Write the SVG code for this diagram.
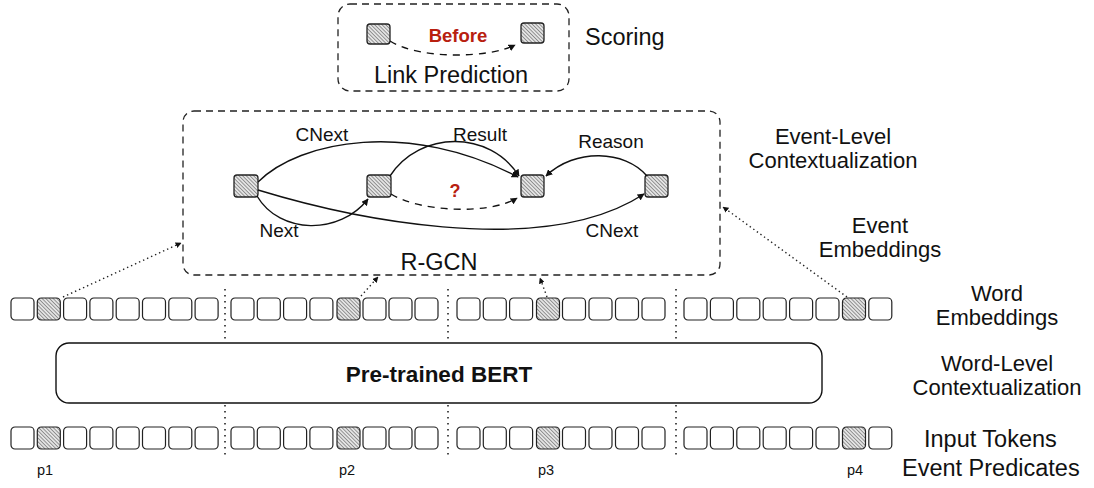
<svg xmlns="http://www.w3.org/2000/svg" xmlns:xlink="http://www.w3.org/1999/xlink" width="1094" height="488" viewBox="0 0 1094 488">
<style>
text{font-family:"Liberation Sans",Arial,Helvetica,sans-serif;fill:#111}
.big{font-size:23.5px}
.two{font-size:22px}
.lbl{font-size:19px}
.p{font-size:14.5px}
.red{fill:#b8200f;font-weight:bold}
.dash{fill:none;stroke:#222;stroke-width:1.3;stroke-dasharray:7 5}
.edge{fill:none;stroke:#111;stroke-width:1.4}
.edash{fill:none;stroke:#111;stroke-width:1.4;stroke-dasharray:7 6}
.dot{fill:none;stroke:#222;stroke-width:1.4;stroke-dasharray:1.4 3}
.sep{fill:none;stroke:#222;stroke-width:1.6;stroke-dasharray:1.6 4.4}
.tok{fill:#fff;stroke:#222;stroke-width:1.2}
.hat{fill:url(#hatch);stroke:#222;stroke-width:1.2}
.node{fill:url(#hatch);stroke:#222;stroke-width:1.3}
</style>
<defs>
<pattern id="hatch" width="2.6" height="2.6" patternUnits="userSpaceOnUse" patternTransform="rotate(-45)">
<rect width="2.6" height="2.6" fill="#e4e4e4"/>
<line x1="0" y1="0" x2="0" y2="2.6" stroke="#6a6a6a" stroke-width="1.3"/>
</pattern>
<rect id="t" width="23" height="22" rx="4"/>
<marker id="ah" viewBox="0 0 10 10" refX="9" refY="5" markerWidth="7" markerHeight="7" markerUnits="userSpaceOnUse" orient="auto">
<path d="M0,0 L10,5 L0,10 z" fill="#111"/>
</marker>
<marker id="ahs" viewBox="0 0 10 10" refX="9" refY="5" markerWidth="6" markerHeight="6" markerUnits="userSpaceOnUse" orient="auto">
<path d="M0,0 L10,5 L0,10 z" fill="#111"/>
</marker>
</defs>
<rect width="1094" height="488" fill="#fff"/>

<g id="scoring-box">
<rect class="dash" x="338" y="4" width="231" height="87" rx="12"/>
<rect class="node" x="367" y="24" width="23" height="20" rx="3"/>
<rect class="node" x="521" y="23" width="23" height="20" rx="3"/>
<text x="458" y="42" text-anchor="middle" class="red" style="font-size:18.5px">Before</text>
<text x="451" y="83" text-anchor="middle" class="big">Link Prediction</text>
</g>
<g id="rgcn-box">
<rect class="dash" x="183" y="111" width="537" height="164" rx="11"/>
<text x="439" y="270" text-anchor="middle" class="big">R-GCN</text>
</g>
<g id="n1"><rect class="node" x="234" y="175" width="24" height="22" rx="3"/></g>
<g id="n2"><rect class="node" x="367" y="175" width="24" height="22" rx="3"/></g>
<g id="n3"><rect class="node" x="521" y="175" width="23" height="22" rx="3"/></g>
<g id="n4"><rect class="node" x="645" y="175" width="23" height="22" rx="3"/></g>

<g id="connectors">
<path class="edash" d="M390,41 C420,60 490,58 515,45" marker-end="url(#ah)"/>
<path class="edge" d="M258,182 C300,140 410,120 518,177" marker-end="url(#ah)"/>
<path class="edge" d="M390,176 C420,130 490,130 519,176" marker-end="url(#ah)"/>
<path class="edge" d="M647,176 C625,150 575,148 546,176" marker-end="url(#ah)"/>
<path class="edge" d="M257,196 C280,235 340,235 368,199" marker-end="url(#ah)"/>
<path class="edge" d="M258,190 C340,215 540,262 644,194" marker-end="url(#ah)"/>
<path class="edash" d="M391,194 C420,212 490,215 517,198" marker-end="url(#ah)"/>
<path class="dot" d="M63,297 L181,243" marker-end="url(#ahs)"/>
<path class="dot" d="M361,296 L378,277" marker-end="url(#ahs)"/>
<path class="dot" d="M547,297 L540,278" marker-end="url(#ahs)"/>
<path class="dot" d="M847,297 L723,207" marker-end="url(#ahs)"/>
</g>
<g id="edge-labels">
<text x="322" y="141" text-anchor="middle" class="lbl">CNext</text>
<text x="480" y="141" text-anchor="middle" class="lbl">Result</text>
<text x="611" y="148" text-anchor="middle" class="lbl">Reason</text>
<text x="279" y="237" text-anchor="middle" class="lbl">Next</text>
<text x="612" y="237" text-anchor="middle" class="lbl">CNext</text>
<text x="455" y="197" text-anchor="middle" class="red" style="font-size:18px">?</text>
</g>

<g id="separators">
<line class="sep" x1="225" y1="289" x2="225" y2="340"/>
<line class="sep" x1="448" y1="289" x2="448" y2="340"/>
<line class="sep" x1="676" y1="289" x2="676" y2="340"/>
<line class="sep" x1="225" y1="405" x2="225" y2="456"/>
<line class="sep" x1="448" y1="405" x2="448" y2="456"/>
<line class="sep" x1="676" y1="405" x2="676" y2="456"/>
</g>

<g id="word-embeddings">
<use href="#t" class="tok" x="11" y="298"/><use href="#t" class="hat" x="37.3" y="298"/><use href="#t" class="tok" x="63.6" y="298"/><use href="#t" class="tok" x="89.9" y="298"/><use href="#t" class="tok" x="116.2" y="298"/><use href="#t" class="tok" x="142.5" y="298"/><use href="#t" class="tok" x="168.8" y="298"/><use href="#t" class="tok" x="195.1" y="298"/>
<use href="#t" class="tok" x="231" y="298"/><use href="#t" class="tok" x="257.3" y="298"/><use href="#t" class="tok" x="283.6" y="298"/><use href="#t" class="tok" x="309.9" y="298"/><use href="#t" class="hat" x="337" y="298"/><use href="#t" class="tok" x="363" y="298"/><use href="#t" class="tok" x="389" y="298"/><use href="#t" class="tok" x="415" y="298"/>
<use href="#t" class="tok" x="457" y="298"/><use href="#t" class="tok" x="483.3" y="298"/><use href="#t" class="tok" x="509.6" y="298"/><use href="#t" class="hat" x="536.5" y="298"/><use href="#t" class="tok" x="562.5" y="298"/><use href="#t" class="tok" x="589" y="298"/><use href="#t" class="tok" x="615.5" y="298"/><use href="#t" class="tok" x="642" y="298"/>
<use href="#t" class="tok" x="684" y="298"/><use href="#t" class="tok" x="710.4" y="298"/><use href="#t" class="tok" x="736.8" y="298"/><use href="#t" class="tok" x="763.2" y="298"/><use href="#t" class="tok" x="789.6" y="298"/><use href="#t" class="tok" x="816" y="298"/><use href="#t" class="hat" x="842.5" y="298"/><use href="#t" class="tok" x="868.8" y="298"/>
</g>

<g id="bert">
<rect x="56" y="343" width="766" height="60" rx="13" fill="#fff" stroke="#111" stroke-width="1.4"/>
<text x="439" y="382" text-anchor="middle" style="font-size:22.5px;font-weight:bold">Pre-trained BERT</text>
</g>

<g id="input-tokens">
<use href="#t" class="tok" x="11" y="427"/><use href="#t" class="hat" x="37.3" y="427"/><use href="#t" class="tok" x="63.6" y="427"/><use href="#t" class="tok" x="89.9" y="427"/><use href="#t" class="tok" x="116.2" y="427"/><use href="#t" class="tok" x="142.5" y="427"/><use href="#t" class="tok" x="168.8" y="427"/><use href="#t" class="tok" x="195.1" y="427"/>
<use href="#t" class="tok" x="231" y="427"/><use href="#t" class="tok" x="257.3" y="427"/><use href="#t" class="tok" x="283.6" y="427"/><use href="#t" class="tok" x="309.9" y="427"/><use href="#t" class="hat" x="337" y="427"/><use href="#t" class="tok" x="363" y="427"/><use href="#t" class="tok" x="389" y="427"/><use href="#t" class="tok" x="415" y="427"/>
<use href="#t" class="tok" x="457" y="427"/><use href="#t" class="tok" x="483.3" y="427"/><use href="#t" class="tok" x="509.6" y="427"/><use href="#t" class="hat" x="536.5" y="427"/><use href="#t" class="tok" x="562.5" y="427"/><use href="#t" class="tok" x="589" y="427"/><use href="#t" class="tok" x="615.5" y="427"/><use href="#t" class="tok" x="642" y="427"/>
<use href="#t" class="tok" x="684" y="427"/><use href="#t" class="tok" x="710.4" y="427"/><use href="#t" class="tok" x="736.8" y="427"/><use href="#t" class="tok" x="763.2" y="427"/><use href="#t" class="tok" x="789.6" y="427"/><use href="#t" class="tok" x="816" y="427"/><use href="#t" class="hat" x="842.5" y="427"/><use href="#t" class="tok" x="868.8" y="427"/>
</g>

<g id="predicates">
<text x="45" y="475" text-anchor="middle" class="p">p1</text>
<text x="347" y="475" text-anchor="middle" class="p">p2</text>
<text x="546" y="475" text-anchor="middle" class="p">p3</text>
<text x="855" y="475" text-anchor="middle" class="p">p4</text>
</g>

<g id="side-labels">
<text x="585" y="45" class="big">Scoring</text>
<text x="833" y="144" text-anchor="middle" class="two">Event-Level</text>
<text x="833" y="168" text-anchor="middle" class="two">Contextualization</text>
<text x="880" y="233" text-anchor="middle" class="two">Event</text>
<text x="880" y="257" text-anchor="middle" class="two">Embeddings</text>
<text x="997" y="301" text-anchor="middle" class="two">Word</text>
<text x="997" y="325" text-anchor="middle" class="two">Embeddings</text>
<text x="997" y="371" text-anchor="middle" class="two">Word-Level</text>
<text x="997" y="395" text-anchor="middle" class="two">Contextualization</text>
<text x="924" y="447" class="big">Input Tokens</text>
<text x="902" y="476" class="big">Event Predicates</text>
</g>
</svg>
